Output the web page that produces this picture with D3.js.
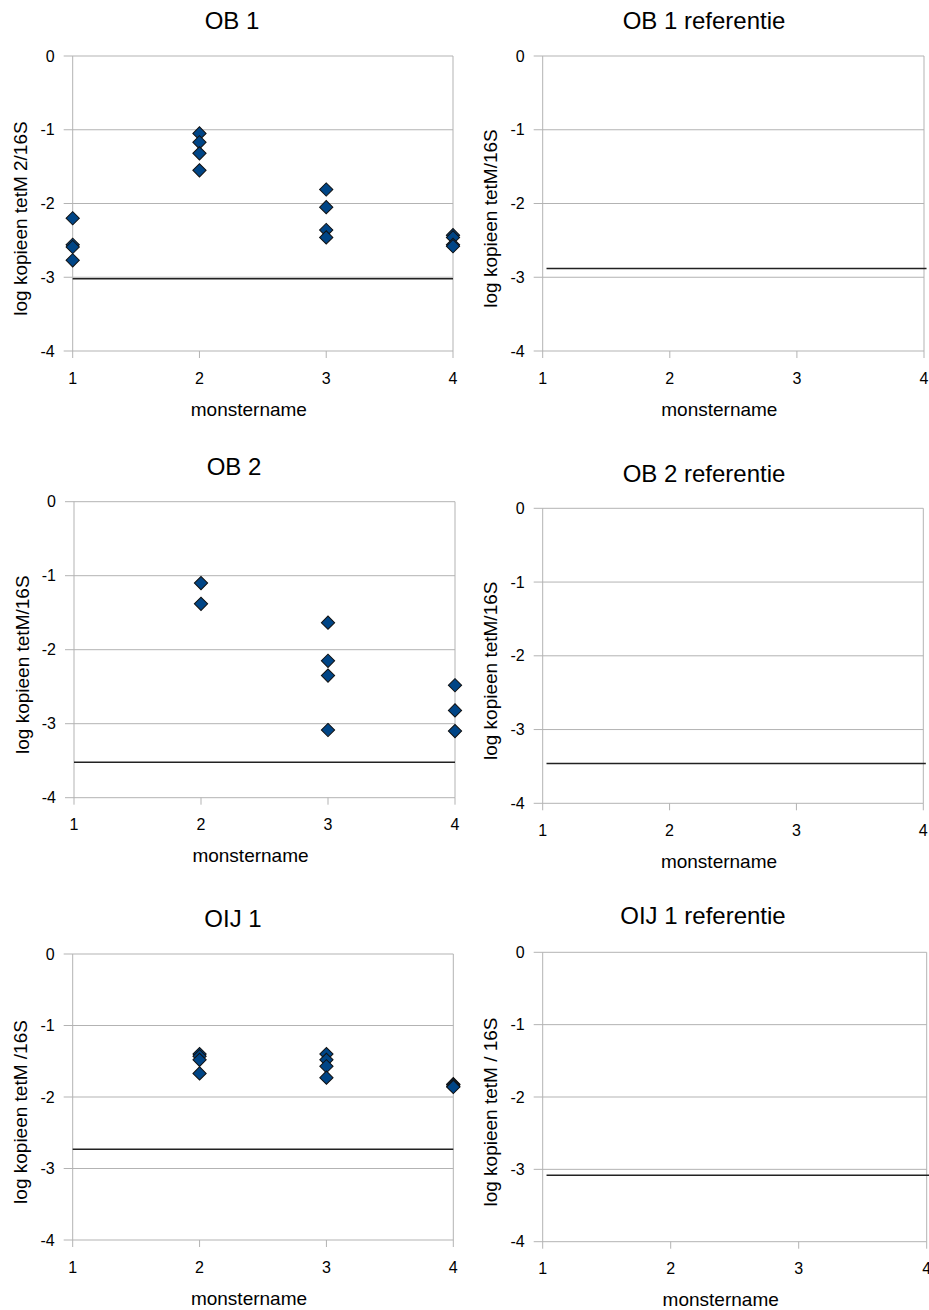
<!DOCTYPE html>
<html>
<head>
<meta charset="utf-8">
<script src="https://cdn.jsdelivr.net/npm/d3@7"></script>
<style>
  html, body { margin: 0; padding: 0; background: #fff; }
  svg { display: block; font-family: "Liberation Sans", Arial, sans-serif; }
</style>
</head>
<body>
<svg id="chart" width="929" height="1310"></svg>
<script>
// ---------- data ----------
const xTicks = [1, 2, 3, 4];
const yTicks = [0, -1, -2, -3, -4];
const xAxisTitle = "monstername";
const titles = ["OB 1", "OB 1 referentie", "OB 2", "OB 2 referentie", "OIJ 1", "OIJ 1 referentie"];
const yTitles = ["log kopieen tetM 2/16S", "log kopieen tetM/16S", "log kopieen tetM/16S",
                 "log kopieen tetM/16S", "log kopieen tetM /16S", "log kopieen tetM / 16S"];

const ob1X = [1, 1, 1, 1, 2, 2, 2, 2, 3, 3, 3, 3, 4, 4, 4, 4];
const ob1Y = [-2.20, -2.56, -2.59, -2.77, -1.05, -1.17, -1.32, -1.55, -1.81, -2.05, -2.36, -2.46, -2.43, -2.46, -2.56, -2.58];
const ob2X = [2, 2, 3, 3, 3, 3, 4, 4, 4];
const ob2Y = [-1.10, -1.38, -1.635, -2.15, -2.35, -3.085, -2.48, -2.82, -3.10];
const oij1X = [2, 2, 2, 2, 3, 3, 3, 3, 4, 4, 4, 4];
const oij1Y = [-1.40, -1.43, -1.48, -1.67, -1.40, -1.48, -1.57, -1.73, -1.82, -1.83, -1.85, -1.86];
const emptyX = [];
const emptyY = [];

// horizontal reference level in each panel, and its x extent
const refLevels = [-3.02, -2.88, -3.52, -3.46, -2.73, -3.08];
const refStartX = [1, 1.03, 1, 1.03, 1, 1.03];
const refEndX   = [4, 4.02, 4, 4.02, 4, 4.02];

const pointsX = [ob1X, emptyX, ob2X, emptyX, oij1X, emptyX];
const pointsY = [ob1Y, emptyY, ob2Y, emptyY, oij1Y, emptyY];

// ---------- layout (pixel boxes of each plot area) ----------
const layout = [
  { l: 72.7,  r: 453,   t: 56,    b: 351,    ty: 20,    tx: 232 },
  { l: 542.7, r: 924,   t: 56,    b: 351,    ty: 20,    tx: 704 },
  { l: 74,    r: 455,   t: 501.7, b: 797.7,  ty: 466.5, tx: 234 },
  { l: 542.7, r: 923.3, t: 508.3, b: 803.3,  ty: 473,   tx: 704 },
  { l: 72.7,  r: 453.3, t: 954,   b: 1240,   ty: 918,   tx: 233 },
  { l: 542.7, r: 926.7, t: 952.3, b: 1241.7, ty: 915,   tx: 703 }
];

const svg = d3.select("#chart");
const gridColor = "#b3b3b3";

layout.forEach((L, i) => {
  const x = d3.scaleLinear().domain([1, 4]).range([L.l, L.r]);
  const y = d3.scaleLinear().domain([-4, 0]).range([L.b, L.t]);
  const g = svg.append("g");

  // title
  g.append("text")
    .attr("x", L.tx).attr("y", L.ty)
    .attr("text-anchor", "middle").attr("dominant-baseline", "central")
    .attr("font-size", 24).attr("fill", "#000")
    .text(titles[i]);

  // horizontal gridlines with ticks to the left
  g.selectAll("line.hg").data(yTicks).enter().append("line")
    .attr("x1", L.l - 9).attr("x2", L.r)
    .attr("y1", d => y(d)).attr("y2", d => y(d))
    .attr("stroke", gridColor).attr("stroke-width", 1);

  // vertical lines: left axis and right border
  [1, 4].forEach(v => {
    g.append("line")
      .attr("x1", x(v)).attr("x2", x(v))
      .attr("y1", L.t).attr("y2", L.b)
      .attr("stroke", gridColor).attr("stroke-width", 1);
  });

  // x ticks below
  g.selectAll("line.xt").data(xTicks).enter().append("line")
    .attr("x1", d => x(d)).attr("x2", d => x(d))
    .attr("y1", L.b).attr("y2", L.b + 7)
    .attr("stroke", gridColor).attr("stroke-width", 1);

  // y tick labels
  g.selectAll("text.yl").data(yTicks).enter().append("text")
    .attr("x", L.l - 18).attr("y", d => y(d))
    .attr("text-anchor", "end").attr("dominant-baseline", "central")
    .attr("font-size", 16).attr("fill", "#000")
    .text(d => d3.format("d")(d).replace("−", "-"));

  // x tick labels
  g.selectAll("text.xl").data(xTicks).enter().append("text")
    .attr("x", d => x(d)).attr("y", L.b + 27)
    .attr("text-anchor", "middle").attr("dominant-baseline", "central")
    .attr("font-size", 16).attr("fill", "#000")
    .text(d => d);

  // x axis title
  g.append("text")
    .attr("x", (L.l + L.r) / 2 - 14).attr("y", L.b + 58)
    .attr("text-anchor", "middle").attr("dominant-baseline", "central")
    .attr("font-size", 19).attr("fill", "#000")
    .text(xAxisTitle);

  // y axis title
  const yx = L.l - 52, yy = (L.t + L.b) / 2 + 15;
  g.append("text")
    .attr("transform", `translate(${yx},${yy}) rotate(-90)`)
    .attr("text-anchor", "middle").attr("dominant-baseline", "central")
    .attr("font-size", 19).attr("fill", "#000")
    .text(yTitles[i]);

  // reference line
  g.append("line")
    .attr("x1", x(refStartX[i])).attr("x2", x(refEndX[i]))
    .attr("y1", y(refLevels[i])).attr("y2", y(refLevels[i]))
    .attr("stroke", "#222").attr("stroke-width", 1.5);

  // points
  const pts = pointsX[i].map((v, k) => ({ x: v, y: pointsY[i][k] }));
  const sym = d3.symbol().type(d3.symbolSquare).size(88);
  g.selectAll("path.pt").data(pts).enter().append("path")
    .attr("d", sym)
    .attr("transform", d => `translate(${x(d.x)},${y(d.y)}) rotate(45)`)
    .attr("fill", "#004586").attr("stroke", "#111").attr("stroke-width", 1);
});
</script>
</body>
</html>
